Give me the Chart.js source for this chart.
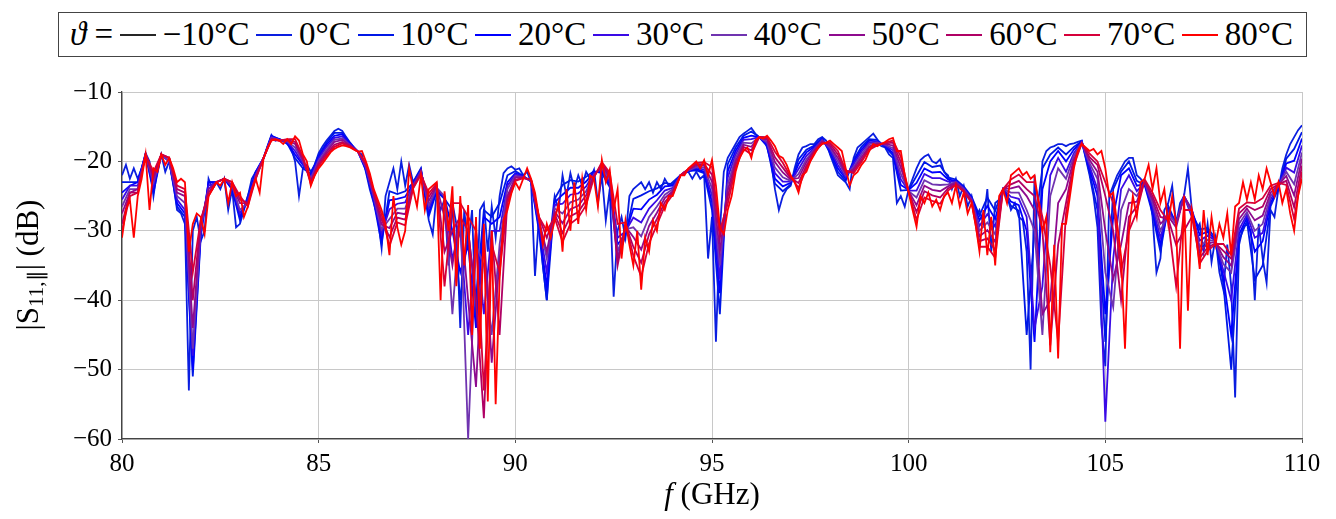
<!DOCTYPE html>
<html>
<head>
<meta charset="utf-8">
<script src="https://cdn.jsdelivr.net/npm/chart.js@4.4.1/dist/chart.umd.min.js"></script>
<style>
    body { margin: 0; background: #fff; }
    #wrap { position: relative; width: 1336px; height: 519px; font-family: 'Liberation Serif', serif; color: #000; }
    #chart { position: absolute; left: 0; top: 0; }
    #legend {
        position: absolute; left: 58px; top: 12px; width: 1249px; height: 45px;
        box-sizing: border-box; border: 1.3px solid #444; background: #fff;
        display: flex; align-items: center; justify-content: space-between;
        padding: 0 13px 0 11px;
        font-size: 33px; white-space: nowrap;
    }
    #legend .sw { display: inline-block; width: 36px; height: 0; border-top: 2px solid; }
    #xtitle { position: absolute; left: 562px; width: 300px; top: 476px; text-align: center; font-size: 31px; }
    #ytitle {
        position: absolute; left: -122px; top: 245px; width: 300px; height: 40px; line-height: 40px;
        text-align: center; font-size: 31px; transform: rotate(-90deg);
    }
    sub { font-size: 0.68em; vertical-align: -0.22em; line-height: 0; }
</style>
</head>
<body>
<div id="wrap">
    <canvas id="chart" width="1336" height="519"></canvas>
    <div id="legend"></div>
    <div id="xtitle"><i>f</i> (GHz)</div>
    <div id="ytitle">|S<sub>11,∥</sub>| (dB)</div>
</div>
<script>
// temperatures and line colours (legend order)
const temps = ['\u221210°C', '0°C', '10°C', '20°C', '30°C', '40°C', '50°C', '60°C', '70°C', '80°C'];
const colors = ['#262626', '#0a1ee0', '#0018e6', '#0000ff', '#3a0ae6', '#7034b0', '#8e0a8e', '#b00064', '#d6003a', '#ff0000'];

// frequency grids (GHz): 0.1 GHz for the outer curves, 0.2 GHz for the inner ones
const freqFine = [];
for (let i = 0; i <= 300; i++) freqFine.push(+(80 + i * 0.1).toFixed(1));
const freqCoarse = [];
for (let i = 0; i <= 150; i++) freqCoarse.push(+(80 + i * 0.2).toFixed(1));

const xTicks = [80, 85, 90, 95, 100, 105, 110];
const yTicks = [-60, -50, -40, -30, -20, -10];

// |S11| in dB
// -10°C: no curve visible in the plot, only in the legend
const s_m10 = [];

const s0 = [
    -22, -20.5, -22.5, -21, -22.5, -21, -18.8, -20, -25, -21,
    -19, -21.5, -20, -23, -27, -27.5, -29, -53, -30, -28,
    -31.5, -30, -22.5, -24, -23, -24, -22.5, -27, -24, -29.5,
    -29, -27, -25, -22.5, -21.5, -21, -19.5, -17.8, -16.2, -17,
    -16.8, -17, -17.5, -18, -20, -25, -21, -20.5, -21.5, -20.5,
    -18.8, -17.8, -17, -16.3, -15.6, -15.3, -15.6, -16.5, -17.3, -18,
    -18.6, -19, -21.5, -24, -26, -28, -32.5, -25, -23, -21,
    -24, -20, -23.5, -20.5, -23, -22, -21, -25, -28.5, -30.5,
    -24.5, -27, -25.5, -35, -26, -29, -44, -27, -32, -27,
    -43.5, -27, -26, -33, -26.5, -31, -25, -21.7, -21, -20.7,
    -21.2, -21, -22, -21.5, -23, -36.5, -28, -35, -40, -30,
    -25, -27, -22, -25, -21.7, -24, -22, -23.5, -21.5, -22.5,
    -21.2, -26, -22, -28.5, -24, -39.5, -30, -28, -31, -25,
    -24, -23.5, -23, -24, -23, -24.5, -23, -24, -22.5, -23.5,
    -23, -22.5, -22, -21.5, -21.5, -22.5, -21.5, -22.5, -22, -34,
    -28, -46, -30, -21.5, -19.5, -18.5, -17.5, -16.5, -16, -15.6,
    -15.2, -16, -16.5, -16.5, -18, -20, -24, -27, -25, -24,
    -23.5, -21, -19, -18, -17.8, -17.5, -17.5, -16.8, -16.5, -17,
    -19, -20.5, -22, -22.5, -23, -24, -19.5, -18, -17.5, -17,
    -16.5, -16, -16.8, -17.8, -18, -19, -19.5, -26, -25, -26.5,
    -24, -22.5, -21, -19.8, -19.3, -19, -20, -20.3, -19.7, -21.5,
    -22, -24, -22.5, -25, -23.5, -26.5, -25, -28, -27, -29,
    -24, -33, -26, -25.5, -24, -25, -27, -26, -28, -28.5,
    -33, -50, -22, -35, -20, -18.5, -18, -17.8, -17.5, -17.5,
    -17.8, -17.5, -17.4, -17.2, -17, -19.5, -22, -25, -29.5, -43.5,
    -49.5, -25, -23.5, -22, -21, -20, -19.5, -19.5, -22, -22.5,
    -23.5, -24, -28, -36, -34, -27, -26, -23.5, -29, -26,
    -25, -21, -27, -30, -29, -33, -29, -34.5, -31, -36,
    -38.5, -32, -38, -54, -32, -29.5, -29, -30, -40, -29,
    -34, -37.5, -27, -28, -24, -21, -19, -17.5, -16.5, -15.5,
    -14.8
];

const s10 = [
    -23, -23, -23, -19, -24.5, -19, -20, -26.5, -28, -51,
    -31, -23, -23, -22.5, -24, -28.5, -25, -21.5, -19.5, -16.3,
    -16.8, -17.4, -19.5, -21, -21.8, -19.1, -17.3, -15.9, -15.9, -17.4,
    -18.6, -21.3, -25.8, -31.8, -24.3, -24.7, -24.3, -23.1, -21.1, -27.9,
    -24.3, -25.4, -27, -40, -30, -40, -27, -28, -26, -22,
    -21.4, -22.1, -22.9, -30, -40, -25.4, -23.4, -22.7, -22.9, -22.2,
    -21.4, -21.7, -23.7, -34, -30.7, -25.4, -24.9, -24.3, -23.9, -23.1,
    -23.3, -22, -21.4, -21.3, -21.7, -27, -42, -20.4, -18, -16.3,
    -15.7, -16.5, -17.8, -23.2, -24.3, -23.3, -19.7, -18.3, -17.7, -16.6,
    -18.8, -21.5, -22.8, -19.8, -17.9, -16.8, -16.9, -17.9, -19.1, -24.2,
    -24.1, -22.1, -20.1, -20.8, -20.6, -22.3, -22.6, -23.6, -25.1, -27.8,
    -25.2, -27.1, -24, -26.4, -27.1, -45, -30, -21, -19, -18,
    -19, -17.9, -17.1, -21.6, -27, -46, -24, -21.5, -20, -22.8,
    -23.4, -27.5, -33, -26.4, -29, -25, -27.5, -29.8, -29.6, -31.1,
    -37.6, -50, -31.3, -28.6, -37, -35, -26.5, -23.9, -19.6, -18.2, -15.8
];

const s20 = [
    -24.5, -23.5, -23, -19, -24, -19, -20, -26, -27.5, -50,
    -30.5, -23, -23, -22.5, -24, -28, -25.5, -21.5, -19.5, -16.4,
    -16.8, -17.3, -19, -20.5, -22, -19.4, -17.6, -16.3, -16.1, -17.5,
    -18.6, -21.1, -25.5, -31.1, -25.6, -25.4, -25.1, -23.3, -21.3, -27.4,
    -24.1, -25.2, -30, -36, -32, -44, -28, -29, -28, -23,
    -21.7, -22.1, -22.9, -29.5, -38, -25.9, -24.8, -23.8, -23.8, -22.9,
    -21.5, -21.5, -23.3, -32, -30.4, -26.8, -26.9, -25.5, -24.8, -23.6,
    -23.5, -22, -21.4, -21.1, -21.5, -25.9, -39, -21.4, -18.5, -16.6,
    -16.3, -16.5, -17.6, -22.5, -23.6, -23.1, -20.4, -18.7, -17.9, -16.8,
    -18.5, -21, -22.5, -20.1, -18.3, -17, -17.1, -17.8, -18.8, -23.4,
    -24.1, -23.1, -21, -21.6, -21.5, -22.6, -22.8, -23.8, -25.3, -28.5,
    -26.4, -28.3, -24, -25.8, -26.3, -30, -46, -24, -20, -18.5,
    -20, -18.3, -17.1, -21.1, -25, -42, -28, -22, -21, -23.5,
    -23.3, -27, -32, -26.8, -29, -25, -27, -30.6, -30.1, -31.3,
    -36.6, -45, -30.5, -28.1, -33, -31.5, -26, -23.8, -20.3, -19.9, -16.7
];

const s30 = [
    -25.5, -23.5, -23.5, -19, -23.5, -19, -20, -25.5, -27, -48,
    -30, -23.5, -23, -22.5, -23.5, -27.5, -25.5, -22, -19.5, -16.5,
    -16.9, -17.2, -18.5, -20.3, -22.3, -19.6, -17.9, -16.6, -16.4, -17.6,
    -18.6, -20.9, -25.3, -30.4, -26.9, -26.1, -25.9, -23.4, -21.4, -26.8,
    -23.9, -25.1, -34, -30, -45, -30, -42, -30, -30, -23.5,
    -21.9, -22.2, -22.8, -29, -36, -26.3, -26.1, -24.8, -24.6, -23.6,
    -21.7, -21.2, -23, -31, -30.1, -28.1, -28.8, -26.8, -25.6, -24.2,
    -23.8, -22, -21.3, -20.9, -21.2, -24.9, -37, -22.3, -19, -16.9,
    -16.8, -16.5, -17.4, -21.7, -22.9, -22.9, -21.1, -19.2, -18.1, -16.9,
    -18.3, -20.5, -22.3, -20.4, -18.6, -17.3, -17.2, -17.7, -18.4, -22.6,
    -24.2, -24.2, -21.8, -22.4, -22.4, -22.9, -22.9, -23.9, -25.4, -29.3,
    -27.6, -29.4, -24, -25.1, -25.4, -28, -44, -38, -22, -19.5,
    -21.5, -18.8, -17.2, -20.7, -24, -57.5, -34, -24, -22, -24.3,
    -23.1, -26.5, -31, -27.1, -29, -25, -28, -31.4, -30.7, -31.4,
    -35.7, -40, -29.8, -27.7, -31, -30.3, -25.5, -23.6, -20.9, -21.6, -17.7
];

const s40 = [
    -26.5, -24, -24, -19, -23, -19, -20, -25, -26, -47,
    -29.5, -24, -23, -22.5, -23.5, -27, -26, -22, -19.5, -16.6,
    -16.9, -17.1, -18, -20, -22.5, -19.9, -18.3, -16.9, -16.7, -17.7,
    -18.6, -20.8, -25, -29.8, -28.3, -26.8, -26.8, -23.5, -21.5, -26.3,
    -23.8, -25, -42, -27, -60, -32, -35, -45, -32, -24,
    -22.1, -22.3, -22.8, -28.5, -34, -26.8, -27.5, -25.9, -25.5, -24.3,
    -21.9, -20.9, -22.6, -33, -29.8, -29.5, -30.8, -28, -26.5, -24.8,
    -24, -22, -21.3, -20.8, -20.9, -23.9, -35, -23.3, -19.5, -17.3,
    -17.4, -16.5, -17.2, -20.9, -22.3, -22.8, -21.8, -19.7, -18.3, -17,
    -18, -20, -22, -20.8, -19, -17.5, -17.3, -17.6, -18.1, -21.8,
    -24.3, -25.2, -22.7, -23.3, -23.4, -23.3, -23, -24, -25.5, -30,
    -28.8, -30.5, -24, -24.5, -24.5, -27, -30, -45, -25, -21,
    -22.5, -19.2, -17.3, -20.3, -22.5, -36, -41, -27, -24, -25,
    -23, -26, -30, -27.5, -29, -25, -27.5, -32.3, -31.3, -31.5,
    -34.8, -36, -29, -27.3, -30, -29, -25, -23.5, -21.5, -23.3, -18.7
];

const s50 = [
    -27.5, -24.5, -24, -19, -22.5, -19, -19.5, -24.5, -25, -44,
    -29, -24, -23, -22.5, -23.5, -26, -26, -22, -19.5, -16.7,
    -17, -17, -17.5, -19.8, -22.8, -20.2, -18.6, -17.2, -16.9, -17.7,
    -18.6, -20.6, -24.8, -29.1, -29.6, -27.4, -27.6, -23.6, -21.6, -25.7,
    -23.6, -28, -35, -27, -40, -52.5, -30, -49, -34, -25,
    -22.3, -22.3, -22.7, -28.5, -33, -27.2, -28.9, -26.9, -26.4, -24.9,
    -22, -20.6, -22.3, -34, -29.4, -30.9, -32.7, -29.3, -27.4, -25.3,
    -24.3, -22, -21.2, -20.6, -20.6, -22.9, -33, -24.2, -20, -17.6,
    -17.9, -16.5, -16.9, -20.1, -21.6, -22.6, -22.4, -20.1, -18.4, -17.1,
    -17.8, -19.5, -21.8, -21.1, -19.4, -17.8, -17.4, -17.5, -17.7, -20.9,
    -24.3, -26.3, -23.5, -24.1, -24.3, -23.6, -23.1, -24.1, -25.6, -30.8,
    -29.9, -31.6, -24, -23.9, -23.6, -25, -27, -42, -40, -26,
    -24, -19.7, -17.3, -19.8, -21.5, -30, -37, -32, -26, -25.8,
    -22.9, -25.5, -29, -27.9, -29.5, -25, -27, -33.1, -31.8, -31.6,
    -33.8, -35, -28.3, -26.8, -28.5, -27.8, -24.5, -23.4, -22.1, -24.9, -19.6
];

const s60 = [
    -29, -24.5, -24.5, -19, -22, -19, -19.5, -24, -24.5, -40,
    -28.5, -24.5, -23, -22.5, -23, -25.5, -26, -22.5, -19.5, -16.8,
    -17, -16.9, -17.2, -19.5, -23, -20.5, -18.9, -17.6, -17.2, -17.8,
    -18.6, -20.4, -24.5, -28.4, -30.9, -28.1, -28.4, -23.8, -21.8, -25.1,
    -23.4, -33, -30, -28, -30, -40, -57, -30, -45, -25.5,
    -22.6, -22.4, -22.6, -28, -31, -27.6, -30.3, -27.9, -27.3, -25.6,
    -22.2, -20.4, -21.9, -35, -29.1, -32.3, -34.6, -30.5, -28.3, -25.9,
    -24.5, -22, -21.1, -20.4, -20.4, -21.9, -31, -25.1, -20.5, -17.9,
    -18.4, -16.5, -16.7, -19.4, -20.9, -22.4, -23.1, -20.6, -18.6, -17.3,
    -17.5, -19, -21.5, -21.4, -19.8, -18, -17.6, -17.4, -17.3, -20.1,
    -24.4, -27.3, -24.3, -24.9, -25.2, -23.9, -23.3, -24.3, -25.8, -31.5,
    -31.1, -32.8, -24, -23.3, -22.8, -24, -25, -30, -46.5, -32,
    -26, -20.1, -17.4, -19.4, -20.5, -25, -30, -40, -28, -26.5,
    -22.8, -25, -28, -28.3, -32, -30, -28, -33.9, -32.4, -31.8,
    -32.9, -34, -27.5, -26.4, -27, -26.5, -24, -23.3, -22.8, -26.6, -20.6
];

const s70 = [
    -30, -25, -24.5, -19, -21.5, -19, -19.5, -23.5, -24, -36,
    -28.5, -25, -23, -22.5, -23, -25, -26.5, -22.5, -19.5, -16.9,
    -17, -16.8, -16.8, -19.3, -23.3, -20.7, -19.2, -17.9, -17.4, -17.9,
    -18.6, -20.2, -24.3, -27.7, -32.2, -28.8, -29.2, -23.9, -21.9, -24.6,
    -23.2, -38, -26, -26, -28, -30, -53, -32, -36, -26,
    -22.8, -22.4, -22.6, -28, -30, -28.1, -31.6, -29, -28.1, -26.3,
    -22.3, -20.1, -21.6, -29, -28.8, -33.6, -36.6, -31.8, -29.1, -26.4,
    -24.8, -22, -21.1, -20.2, -20.1, -20.8, -30, -26.1, -21, -18.2,
    -19, -16.5, -16.5, -18.6, -20.2, -22.2, -23.8, -21, -18.8, -17.4,
    -17.3, -18.5, -21.3, -21.7, -20.1, -18.3, -17.7, -17.3, -17, -19.3,
    -24.4, -28.4, -25.2, -25.7, -26.1, -24.2, -23.4, -24.4, -25.9, -32.3,
    -32.3, -33.9, -24, -22.6, -21.9, -23, -23, -28, -35, -46,
    -27.5, -20.6, -17.4, -18.9, -20, -23, -26, -36, -30, -27.3,
    -22.6, -24.5, -27, -28.6, -38, -27, -27, -34.7, -32.9, -31.9,
    -31.9, -33.5, -26.8, -25.9, -26, -25.3, -23.5, -23.1, -23.4, -28.3, -21.5
];

const s80 = [
    -31, -27, -25.5, -31, -25, -22.5, -19, -27, -21, -21.5,
    -19, -20.5, -19.5, -21, -23, -22.5, -23, -33, -29, -27.5,
    -28, -30.5, -25, -24, -23, -23.5, -22.5, -26, -23, -25,
    -24.5, -28, -26.5, -24, -22.5, -24.5, -19.5, -18, -17, -16.8,
    -17, -17.5, -16.8, -17.5, -16.4, -17, -19, -20, -23.5, -22,
    -21, -20.3, -19.5, -18.7, -18.2, -17.9, -17.7, -17.8, -18, -18.3,
    -18.6, -18.5, -20, -21.7, -24, -25.5, -27, -29, -33.5, -25,
    -29.5, -32, -30, -21, -24, -26.5, -22, -27, -24, -23.5,
    -23, -40, -24.3, -30, -23.6, -38, -25, -35, -26.3, -45,
    -28, -47, -29, -54.6, -30, -55, -37, -28.4, -27, -24.6,
    -23, -24, -22.5, -21, -22.5, -24.5, -28, -32, -29, -31,
    -28.5, -26, -33, -24, -30, -23, -29, -22.5, -27, -22,
    -22.5, -26.5, -19.8, -23, -21.2, -27, -24, -34, -28.5, -32,
    -35, -30, -38.5, -31, -33, -28.5, -30, -26, -27, -25,
    -25, -23.5, -22, -22, -21, -20.5, -20, -21, -19.8, -22,
    -19.8, -23.5, -29.5, -30.5, -27, -25, -21.5, -19.5, -18.5, -18,
    -19.5, -17, -16.5, -16.7, -16.3, -17, -17.8, -19.2, -19.5, -20.5,
    -22, -23, -24.5, -22, -21.5, -20, -19, -18, -17.5, -17.3,
    -17, -17.5, -18, -18.5, -21, -23.5, -22, -21.5, -20.5, -19.8,
    -18.5, -17.5, -17.8, -17.5, -17.2, -16.8, -16.6, -18.5, -18.5, -22,
    -24.5, -27, -29.4, -25, -26, -24.5, -26.5, -25.5, -27, -25,
    -24.5, -26, -23.5, -26.5, -24.5, -27.5, -26, -29, -33, -27,
    -33.5, -28, -35, -25, -24, -26, -22, -21.5, -21, -22,
    -21.5, -22.5, -22, -26, -30, -28, -47.5, -32, -48.4, -29,
    -29, -25, -21, -18.5, -17.5, -18, -18.5, -18.2, -19, -18.5,
    -21, -25, -24.5, -29, -33.7, -47, -30, -25, -28, -23,
    -22.5, -20.5, -24, -21, -26, -24, -29, -25, -29, -47,
    -25, -41.5, -27, -30, -35.5, -27, -33.5, -28, -32, -29,
    -31, -27.5, -33.5, -26.5, -26, -23, -25.5, -23, -25.5, -22,
    -24, -21, -23, -25, -23, -26, -24, -27.5, -30, -25,
    -22.5
];

const seriesValues = [s_m10, s0, s10, s20, s30, s40, s50, s60, s70, s80];
const seriesFreqs = [freqFine, freqFine, freqCoarse, freqCoarse, freqCoarse, freqCoarse, freqCoarse, freqCoarse, freqCoarse, freqFine];

function toPoints(freqs, vals) {
    return vals.map((v, i) => ({ x: freqs[i], y: v }));
}

function minus(v) {
    return String(v).replace('-', '\u2212');
}

// legend (drawn as html, like the boxed pgfplots legend)
let legendHtml = '<span><i>ϑ</i> =</span>';
temps.forEach((t, i) => {
    legendHtml += `<span class="sw" style="border-color:${colors[i]}"></span><span>${t}</span>`;
});
document.getElementById('legend').innerHTML = legendHtml;

const datasets = temps.map((t, i) => ({
    label: t,
    data: toPoints(seriesFreqs[i], seriesValues[i]),
    borderColor: colors[i],
    backgroundColor: colors[i],
    borderWidth: 1.8,
    pointRadius: 0,
    tension: 0,
    fill: false,
    order: temps.length - 1 - i   // red drawn last, on top
}));

const tickFont = { family: 'Liberation Serif', size: 25 };

const ctx = document.getElementById('chart').getContext('2d');
const chart = new Chart(ctx, {
    type: 'line',
    data: { datasets: datasets },
    options: {
        responsive: false,
        animation: false,
        devicePixelRatio: 1,
        layout: { padding: { top: 92, right: 34, left: 0, bottom: 0 } },
        plugins: {
            legend: { display: false },
            tooltip: { enabled: false }
        },
        scales: {
            x: {
                type: 'linear',
                min: 80,
                max: 110,
                afterBuildTicks: scale => { scale.ticks = xTicks.map(v => ({ value: v })); },
                afterFit: scale => { scale.height = 80; },
                ticks: { color: '#000', font: tickFont, padding: 6, maxRotation: 0, callback: v => minus(v) },
                grid: { color: '#c8c8c8', lineWidth: 1, tickLength: 4, tickColor: '#555' },
                border: { color: '#444', width: 1.3 }
            },
            y: {
                type: 'linear',
                min: -60,
                max: -10,
                afterBuildTicks: scale => { scale.ticks = yTicks.map(v => ({ value: v })); },
                afterFit: scale => { scale.width = 122; },
                ticks: { color: '#000', font: tickFont, padding: 6, callback: v => minus(v) },
                grid: { color: '#c8c8c8', lineWidth: 1, tickLength: 4, tickColor: '#555' },
                border: { color: '#444', width: 1.3 }
            }
        }
    }
});
</script>
</body>
</html>
